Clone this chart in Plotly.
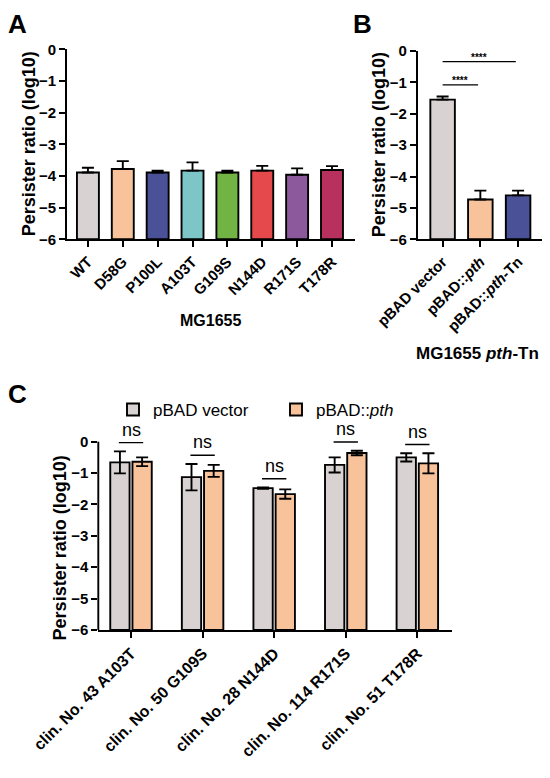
import plotly.graph_objects as go

W, H = 550, 778
OFF_X, OFF_Y = 8, 8  # the page body margin shifts the figure right and down
FONT = "Liberation Sans, Arial, sans-serif"

# ---- panel A: MG1655 point mutants ----
a_labels = ["WT", "D58G", "P100L", "A103T", "G109S", "N144D", "R171S", "T178R"]
a_means = [-3.89, -3.78, -3.89, -3.83, -3.89, -3.83, -3.96, -3.81]
a_err = [0.15, 0.25, 0.06, 0.26, 0.06, 0.15, 0.20, 0.12]
a_colors = ["#d8d2d2", "#f8c29a", "#4b5197", "#7cc6c8", "#72b444",
            "#e6494c", "#8c5a9c", "#b8305e"]

# ---- panel B: MG1655 pth-Tn complementation ----
b_labels = ["pBAD vector", "pBAD::<i>pth</i>", "pBAD::<i>pth</i>-Tn"]
b_means = [-1.55, -4.73, -4.60]
b_err = [0.10, 0.28, 0.15]
b_colors = ["#d8d2d2", "#f8c29a", "#4b5197"]
b_sig = [(0, 1, -1.08, "****"), (0, 2, -0.34, "****")]

# ---- panel C: clinical isolates ----
c_labels = ["clin. No. 43 A103T", "clin. No. 50 G109S", "clin. No. 28 N144D",
            "clin. No. 114 R171S", "clin. No. 51 T178R"]
c_vector = [-0.66, -1.13, -1.48, -0.74, -0.50]
c_vector_err = [0.35, 0.42, 0.02, 0.24, 0.13]
c_pth = [-0.64, -0.93, -1.67, -0.36, -0.69]
c_pth_err = [0.14, 0.19, 0.15, 0.07, 0.32]
c_sig = ["ns", "ns", "ns", "ns", "ns"]

Y_TITLE = "Persister ratio (log10)"
BASE = -6
GRAY, ORANGE = "#d8d2d2", "#f8c29a"
LW = 1.9


def px_x(p):
    return (p - OFF_X) / W


def px_y(p):
    return 1 - (p - OFF_Y) / H


fig = go.Figure()

# A
fig.add_trace(go.Bar(
    x=list(range(len(a_labels))), y=[m - BASE for m in a_means], base=BASE,
    width=0.63, marker=dict(color=a_colors, line=dict(color="black", width=LW)),
    error_y=dict(type="data", symmetric=False, array=a_err, arrayminus=[0] * len(a_err),
                 color="black", thickness=LW, width=6),
    xaxis="x", yaxis="y", showlegend=False))

# B
fig.add_trace(go.Bar(
    x=list(range(len(b_labels))), y=[m - BASE for m in b_means], base=BASE,
    width=0.65, marker=dict(color=b_colors, line=dict(color="black", width=LW)),
    error_y=dict(type="data", symmetric=False, array=b_err, arrayminus=[0] * len(b_err),
                 color="black", thickness=LW, width=6),
    xaxis="x2", yaxis="y2", showlegend=False))

# C
fig.add_trace(go.Bar(
    x=list(range(len(c_labels))), y=[m - BASE for m in c_vector], base=BASE,
    name="pBAD vector", marker=dict(color=GRAY, line=dict(color="black", width=LW)),
    error_y=dict(type="data", array=c_vector_err, color="black", thickness=LW, width=6),
    xaxis="x3", yaxis="y3"))
fig.add_trace(go.Bar(
    x=list(range(len(c_labels))), y=[m - BASE for m in c_pth], base=BASE,
    name="pBAD::<i>pth</i>", marker=dict(color=ORANGE, line=dict(color="black", width=LW)),
    error_y=dict(type="data", array=c_pth_err, color="black", thickness=LW, width=6),
    xaxis="x3", yaxis="y3"))

tick_font = dict(family=FONT, size=15, color="black", weight="bold")
title_font = dict(family=FONT, size=18, color="black", weight="bold")
ax_common = dict(showgrid=False, zeroline=False, ticks="outside", ticklen=6,
                 tickwidth=LW, tickcolor="black", linecolor="black", linewidth=LW,
                 tickfont=tick_font, automargin=False)
yvals = list(range(-6, 1))

fig.update_layout(
    width=W, height=H, margin=dict(l=0, r=0, t=0, b=0),
    paper_bgcolor="white", plot_bgcolor="white",
    barmode="group", bargap=0.38, bargroupgap=0.13,
    font=dict(family=FONT, color="black"),
    xaxis=dict(ax_common, domain=[px_x(67), px_x(355)], range=[-0.6, 7.66],
               tickvals=list(range(len(a_labels))), ticktext=a_labels,
               tickangle=-45, showline=True, anchor="y"),
    yaxis=dict(ax_common, domain=[px_y(239.3), px_y(49.3)], range=[-6, 0],
               tickvals=yvals, showline=True, anchor="x"),
    xaxis2=dict(ax_common, domain=[px_x(417.7), px_x(543)], range=[-0.66, 2.66],
                tickvals=list(range(len(b_labels))), ticktext=b_labels,
                tickangle=-45, showline=True, anchor="y2"),
    yaxis2=dict(ax_common, domain=[px_y(239.3), px_y(51)], range=[-6, 0],
                tickvals=yvals, showline=True, anchor="x2"),
    xaxis3=dict(ax_common, domain=[px_x(98.3), px_x(451.7)], range=[-0.457, 4.48],
                tickvals=list(range(len(c_labels))), ticktext=c_labels,
                tickangle=-45, showline=True, anchor="y3",
                tickfont=dict(tick_font, size=16)),
    yaxis3=dict(ax_common, domain=[px_y(630), px_y(426)], range=[-6, 0.5],
                tickvals=yvals, showline=False, anchor="x3"),
    legend=dict(orientation="h", x=px_x(113), y=px_y(410), xanchor="left",
                yanchor="middle", font=dict(family=FONT, size=17, color="black"),
                itemwidth=30, entrywidth=118, bgcolor="rgba(0,0,0,0)"),
)

shapes = []
annotations = []

# y axis line for C stops at 0 (range extends above for the ns marks)
shapes.append(dict(type="line", xref="x3 domain", yref="y3", x0=0, x1=0, y0=-6, y1=0,
                   line=dict(color="black", width=LW)))

# y axis titles, placed by hand so they sit right against the tick labels
for yref, xp, yc in [("y domain", 29, 0.5), ("y2 domain", 379, 0.5), ("y3 domain", 60, 0.4)]:
    annotations.append(dict(xref="paper", yref=yref, x=px_x(xp), y=yc, text=Y_TITLE,
                            textangle=-90, showarrow=False, xanchor="center",
                            yanchor="middle", font=title_font))

# B significance brackets
for i, j, yv, txt in b_sig:
    shapes.append(dict(type="line", xref="x2", yref="y2", x0=i, x1=j - 0.06, y0=yv, y1=yv,
                       line=dict(color="black", width=1.4)))
    annotations.append(dict(xref="x2", yref="y2", x=(i + j - 0.06) / 2, y=yv, text=txt,
                            showarrow=False, yanchor="bottom", yshift=-3,
                            font=dict(family=FONT, size=10, color="black", weight="bold")))

# C ns marks over each pair
for k, txt in enumerate(c_sig):
    top = max(c_vector[k] + c_vector_err[k], c_pth[k] + c_pth_err[k])
    yv = top + 0.28
    shapes.append(dict(type="line", xref="x3", yref="y3", x0=k - 0.17, x1=k + 0.17,
                       y0=yv, y1=yv, line=dict(color="black", width=1.4)))
    annotations.append(dict(xref="x3", yref="y3", x=k, y=yv, text=txt, showarrow=False,
                            yanchor="bottom", yshift=1,
                            font=dict(family=FONT, size=18, color="black")))

# panel letters
for letter, xp, yp in [("A", 17, 24), ("B", 362, 24), ("C", 17, 394)]:
    annotations.append(dict(xref="paper", yref="paper", x=px_x(xp), y=px_y(yp), text=letter,
                            showarrow=False, xanchor="center", yanchor="middle",
                            font=dict(family=FONT, size=26, color="black", weight="bold")))

# x titles
annotations.append(dict(xref="x domain", yref="paper", x=0.5, y=px_y(320), text="MG1655",
                        showarrow=False, xanchor="center", yanchor="middle",
                        font=dict(family=FONT, size=16, color="black", weight="bold")))
annotations.append(dict(xref="paper", yref="paper", x=px_x(477), y=px_y(353),
                        text="MG1655 <i>pth</i>-Tn", showarrow=False,
                        xanchor="center", yanchor="middle",
                        font=dict(family=FONT, size=17, color="black", weight="bold")))

fig.update_layout(shapes=shapes, annotations=annotations)

fig.write_html("out.html")
